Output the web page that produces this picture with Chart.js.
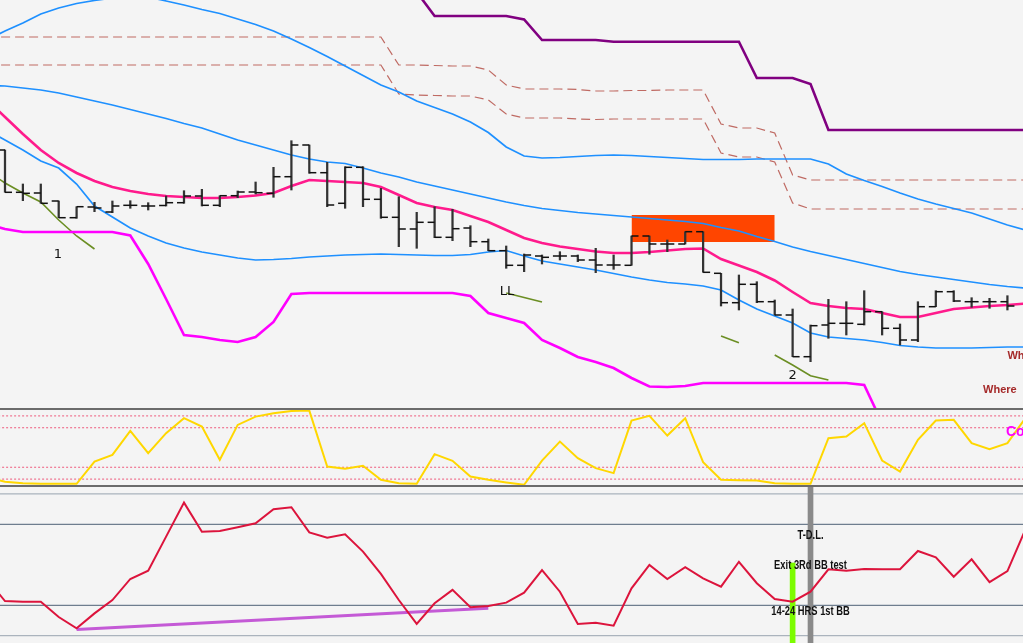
<!DOCTYPE html>
<html><head><meta charset="utf-8">
<script src="https://cdn.jsdelivr.net/npm/chart.js@4.4.0/dist/chart.umd.min.js"></script>
<style>
html,body{margin:0;padding:0;background:#f4f4f4;overflow:hidden;width:1023px;height:643px;position:relative}
canvas{position:absolute;left:0}
#main{top:0}
#mid{top:408px}
#low{top:487px}
.sep{position:absolute;left:0;width:1023px;height:2px;background:#6b6b6b}
</style></head><body>
<canvas id="main" width="1023" height="408"></canvas>
<canvas id="mid" width="1023" height="79"></canvas>
<canvas id="low" width="1023" height="156"></canvas>
<div class="sep" style="top:408px"></div>
<div class="sep" style="top:485px"></div>
<script>
// ---------- DATA ----------
// OHLC bars, bar index 0..56
const opens  = [258,215.7,215,207,190.3,201,196,202.7,202,202.5,205.3,212,202.7,212.3,216,214.7,231.3,263,235.3,204.7,240.7,208.7,190.7,179,185.7,170.7,180,166.3,157.3,142.7,152,152,152,148,143,142.7,172,164,164,176.3,134.7,105.3,123.7,106.3,93,51.3,83,84.7,83.7,96.3,79.7,68,101.3,116.3,106.3,106.3,106.3];
const highs  = [258,224,224,207,201.3,205.7,207,207.3,205.3,212,217.3,218.7,212.3,217,226,240.7,267.3,263,245.7,241.3,241.3,219.7,211.3,195.7,201.3,198.7,182.3,169,162,154,153,156.3,153,159.7,153,172,172,168,176.3,176.3,134.7,133,126.3,108,99,83,108.7,106.3,117.3,96.3,84,106.3,117.3,117.3,110.3,109.7,112.3];
const lows   = [215.7,207.3,204.7,190.3,189.7,196.3,195.3,199.7,198,202,204.7,202,201.3,210.3,214,210.7,218,234.7,201.3,199.7,201.3,189.7,161.3,159.7,170.3,167.3,161.3,157.3,139.7,136.3,144,148,146.3,135.3,138.7,142.7,153.7,156.3,164,135.7,102,98,105.3,93,51.3,46.3,69.7,73,83,73,63,66.3,101.3,106.3,100.7,99.7,98];
const closes = [215.7,214.7,204.7,190.3,201.3,200,202,202.7,202,205.3,212,202.7,212.3,216,215.3,231.3,263,235.3,203,240.7,208.7,190.7,179,185.7,170.7,179.3,166.3,157.3,142.7,153,150.7,152,148,143,143,172,164,164,176.3,135.7,105.3,123.7,106.3,93,51.3,82.3,84.7,84.7,96.3,79.7,68,101.3,116.3,107,106.3,106.3,102];

// Indicator lines, index -1..57
const bbMid   = [308,291,274,258,245,235,227,221,217,214,212,211,210,210,211,212.5,215,222,228,227,226,225,221,213,205,201,198,192,186,178,170,165,161.5,159,156.5,155,155,156,157.5,159,159.5,149,142.5,136,127.5,116,105,102,100,99,95,91,91,95,99,100.5,102,103,104.5];
const bbLower = [278,268,258,247,240,224,202,191,180,172,165,160,156,153,150,148,148.5,149.5,151,152,153,153.5,154,153.5,153,152.5,152.5,153.5,156,157.5,152,147,144,141,138,134.5,131,128,125.5,124,122,118,108,99,92,85,75,71,69.5,68,65.5,62.5,61,60,60,60,60.5,61,61];
const bbUpper = [322.5,322,320,318,315,311,307,303,298.5,294,289.5,284.5,280,274,268,263,258,253,249,246,244.5,240,235,231,226,222,218,214,210,206,202.5,199.5,197.5,195.5,194,192.5,191,189.5,188,186.5,184.5,180.5,177,171.5,166.5,161,156.5,152.5,148.5,144.5,140.5,136.5,133.5,131,128.5,126,123.5,121.5,120];
const bbOuter = [368,377,385,394,400,404.5,407.5,410,412,411,407,403,398.5,394.5,389,383.5,377,369,360.5,351.5,342,332.5,323,316,307,300.5,294,286,275.5,261,252,250,250.5,251.5,252.5,253,252.5,251.5,250.5,249.5,248.5,248.5,248.5,249,249,249,249,244,234,227.5,221.5,215,209,204,199.5,195,189,183,178];
// support line, index -1..49
const support = [184,179,176,176,176,176,176,176,172.5,144,109,73,71,68,66,71,86,114,115,115,115,115,115,115,115,115,115,112,95,90,85,68,60,51,46,40,30,21.5,21,22,25,25,25,25,25,25,25,25,25,23,-15];
// dashed resistance levels, index -1..57
const level1 = [371,371,371,371,371,371,371,371,371,371,371,371,371,371,371,371,371,371,371,371,371,371,371,343,343,342.5,342,342,338,323,319,319,319,318.5,317,317,317.5,317.5,318,318,318,284,280,280,275,233,228,228,228,228,228,228,228,228,228,228,228,228,228];
const level2 = [343,343,343,343,343,343,343,343,343,343,343,343,343,343,343,343,343,343,343,343,343,343,343,314,313,312.5,312,312,308,294,290,290,290,289,288.5,289,289,289,289,289,289,255,251,251,246,205,199,199,199,199,199,199,199,199,199,199,199,199,199];
// stop line, index 23..57
const stopLine = [416,392,392,392,392,392,388.5,368,368,368,368,366.3,366.3,366.3,366.3,366.3,366.3,366.3,366.3,330,330,330,324,278,278,278,278,278,278,278,278,278,278,278,278];
// short trend lines [index, value]
const trend1 = [[-1,237],[0,225],[1,215],[2,206],[3,188],[4,172],[5,159]];
const trend2 = [[28,115],[30,106]];
const trend3 = [[40,72],[41,65.3]];
const trend4 = [[43,53],[44,43],[45,32.3],[46,28]];
// highlighted zone: [fromIndex, toIndex, low, high]
const zone = [35, 43, 166, 193];

// middle oscillator, index -1..57
const osc1 = [12.5,6.6,4.7,4.0,4.0,4.0,32.2,40.7,71.0,42.9,68.1,87.1,76.5,34.4,78.6,89.1,93.4,96.3,96.7,25.9,23.0,26.8,9.1,4.9,4.0,41.6,33.1,13.3,9.1,5.7,2.8,33.5,57.5,36.5,23.9,17.6,84.1,90.0,65.1,87.1,31.5,9.1,8.7,8.2,4.9,4.0,4.0,61.8,63.8,80.8,33.5,19.6,59.7,84.1,85.0,55.5,47.9,55.5,87.0];
const osc1Levels = [90,75,25,10];
// lower oscillator, index -1..57
const osc2 = [42.7,32.1,31.8,31.8,24.2,18.6,26.0,32.6,43.0,47.1,63.9,80.7,66.3,66.7,68.5,70.5,77.4,78.4,66.0,63.4,65.1,56.5,45.5,32.6,20.8,31.0,37.6,29.0,29.7,31.3,36.2,47.4,36.7,20.8,21.4,19.9,38.4,49.9,43.0,48.8,43.3,39.2,51.5,40.9,33.1,31.8,36.7,47.8,47.1,47.9,47.8,47.8,56.8,53.7,44.1,52.7,41.4,46.9,67.4];
const osc2Levels = [85,70,30,15];
const osc2Trend = [[4,18.1],[27,28.5]];
const markerGreen = [44, 10, 50.9];
const markerGray = [45, 10, 90];

// annotations
const mainNotes = [
  {text:'1', x:2.96, y:153, font:'13px "DejaVu Sans", sans-serif', color:'#111', align:'center'},
  {text:'LL', x:28.05, y:116, font:'13px "DejaVu Sans", sans-serif', color:'#111', align:'center'},
  {text:'2', x:44, y:32, font:'13px "DejaVu Sans", sans-serif', color:'#111', align:'center'},
  {text:'Where', x:56, y:52, font:'bold 11px "Liberation Sans", Arial, sans-serif', color:'#a52a2a', align:'left'},
  {text:'Where', x:54.64, y:18.5, font:'bold 11px "Liberation Sans", Arial, sans-serif', color:'#a52a2a', align:'left'}
];
const midNotes = [
  {text:'Co', x:55.92, y:69.6, font:'bold 14px "Liberation Sans", Arial, sans-serif', color:'#ff00ff', align:'left'}
];
const narrow = 'bold 13px "Liberation Sans", Arial, sans-serif';
const lowNotes = [
  {text:'T-D.L.', x:45, y:64.7, font:narrow, color:'#111', align:'center', sx:0.72},
  {text:'Exit 3Rd BB test', x:45, y:49.9, font:narrow, color:'#111', align:'center', sx:0.72},
  {text:'14-24 HRS 1st BB', x:45, y:26.8, font:narrow, color:'#111', align:'center', sx:0.72}
];

// ---------- HELPERS ----------
const XMIN = -0.279, XMAX = 56.87;
function seq(arr, start){ return arr.map((v,k)=> v===null ? null : {x:start+k, y:v}); }
function pairs(arr){ return arr.map(p=>({x:p[0], y:p[1]})); }
function lineDs(data, color, width, extra){
  return Object.assign({type:'line', data, borderColor:color, borderWidth:width, pointRadius:0, fill:false, order:10, tension:0}, extra||{});
}
function hLine(v, color, width, dash){
  return lineDs([{x:XMIN-1,y:v},{x:XMAX+1,y:v}], color, width, {borderDash:dash||[], order:50});
}
const notesPlugin = {
  id:'notes',
  afterDatasetsDraw(chart, args, opts){
    const ctx = chart.ctx;
    (opts.items||[]).forEach(t=>{
      ctx.save();
      ctx.font = t.font; ctx.fillStyle = t.color;
      ctx.textAlign = t.align||'center'; ctx.textBaseline = 'middle';
      ctx.translate(chart.scales.x.getPixelForValue(t.x), chart.scales.y.getPixelForValue(t.y));
      ctx.scale(t.sx||1, 1);
      ctx.fillText(t.text, 0, 0);
      ctx.restore();
    });
  }
};
function baseOptions(ymin, ymax, notes){
  return {
    responsive:false, animation:false, events:[],
    layout:{padding:0, autoPadding:false},
    plugins:{legend:{display:false}, tooltip:{enabled:false}, notes:{items:notes}},
    scales:{
      x:{type:'linear', display:false, min:XMIN, max:XMAX, offset:false},
      y:{type:'linear', display:false, min:ymin, max:ymax}
    }
  };
}

// ---------- MAIN PANEL ----------
const barIdx = opens.map((_,i)=>i);
const mainDatasets = [
  lineDs([{x:zone[0],y:zone[3]},{x:zone[1],y:zone[3]}], 'rgba(0,0,0,0)', 0, {fill:{value:zone[2]}, backgroundColor:'#ff4500', order:100}),
  lineDs(seq(level1,-1), '#bf6a63', 1.2, {borderDash:[9,5], order:40}),
  lineDs(seq(level2,-1), '#bf6a63', 1.2, {borderDash:[9,5], order:40}),
  lineDs(seq(stopLine,23), '#800080', 2.6, {order:20}),
  lineDs(seq(bbOuter,-1), '#1e90ff', 1.7),
  lineDs(seq(bbUpper,-1), '#1e90ff', 1.7),
  lineDs(seq(bbLower,-1), '#1e90ff', 1.7),
  lineDs(seq(bbMid,-1), '#ff1a8c', 2.6),
  lineDs(seq(support,-1), '#ff00ff', 2.6),
  lineDs(pairs(trend1), '#6b8e23', 1.6),
  lineDs(pairs(trend2), '#6b8e23', 1.6),
  lineDs(pairs(trend3), '#6b8e23', 1.6),
  lineDs(pairs(trend4), '#6b8e23', 1.6),
  {type:'bar', data: barIdx.map(i=>({x:i, y:[lows[i], highs[i]]})), backgroundColor:'#333333', barThickness:1.6, grouped:false, order:2},
  {type:'line', showLine:false, data: barIdx.map(i=>({x:i, y:opens[i]})), pointStyle:'dash', pointRotation:180, pointRadius:7, pointBorderWidth:1.5, pointBorderColor:'#111', borderColor:'#111', order:1},
  {type:'line', showLine:false, data: barIdx.map(i=>({x:i, y:closes[i]})), pointStyle:'dash', pointRotation:0, pointRadius:7, pointBorderWidth:1.5, pointBorderColor:'#111', borderColor:'#111', order:1}
];
new Chart(document.getElementById('main'), {type:'line', data:{datasets:mainDatasets}, options:baseOptions(0,408,mainNotes), plugins:[notesPlugin]});

// ---------- MIDDLE PANEL ----------
const midDatasets = osc1Levels.map(v=>hLine(v, '#ee5a7c', 1, [2,2]));
midDatasets.push(lineDs(seq(osc1,-1), '#ffd700', 2));
new Chart(document.getElementById('mid'), {type:'line', data:{datasets:midDatasets}, options:baseOptions(0,100,midNotes), plugins:[notesPlugin]});

// ---------- LOWER PANEL ----------
const lowDatasets = osc2Levels.map(v=>hLine(v, (v===85||v===15)?'#aab3bd':'#6e7d8e', 1.3));
lowDatasets.push({type:'bar', data:[{x:markerGreen[0], y:[markerGreen[1], markerGreen[2]]}], backgroundColor:'#7cfc00', barThickness:5, grouped:false, order:30});
lowDatasets.push({type:'bar', data:[{x:markerGray[0], y:[markerGray[1], markerGray[2]]}], backgroundColor:'#8a8a8a', barThickness:5, grouped:false, order:30});
lowDatasets.push(lineDs(pairs(osc2Trend), '#c45ad6', 3, {order:20}));
lowDatasets.push(lineDs(seq(osc2,-1), '#dc143c', 2));
new Chart(document.getElementById('low'), {type:'line', data:{datasets:lowDatasets}, options:baseOptions(11.38,88.42,lowNotes), plugins:[notesPlugin]});
</script>
</body></html>
